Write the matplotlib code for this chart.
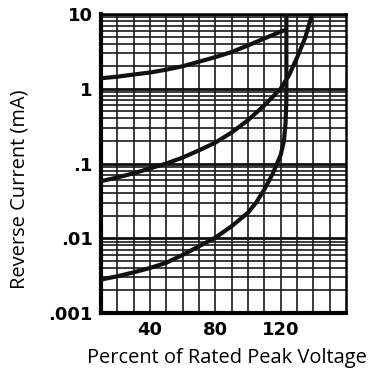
""" reverse current vs percent of rated peak voltage """

import numpy as np
import matplotlib
matplotlib.use('Agg')
from matplotlib import pyplot as plt
from matplotlib.ticker import FixedLocator, LogLocator, NullFormatter

# curve data
top_x = [10, 20, 30, 40, 50, 60, 70, 80, 90, 100, 110, 120, 123.5]
top_y = [1.38, 1.45, 1.55, 1.65, 1.8, 2.0, 2.3, 2.65, 3.1, 3.8, 4.7, 5.8, 6.2]

mid_x = [10, 20, 30, 40, 50, 60, 70, 80, 90, 100, 110, 120, 125, 130, 135, 139]
mid_y = [0.058, 0.065, 0.074, 0.086, 0.1, 0.12, 0.15, 0.19, 0.26, 0.38, 0.6, 1.0, 1.5, 2.6, 4.8, 9.5]

low_x = [10, 20, 30, 40, 50, 60, 70, 80, 90, 100, 105, 110, 115, 120, 122, 123, 123.5, 123.5]
low_y = [0.0028, 0.0031, 0.0035, 0.004, 0.0047, 0.006, 0.0078, 0.0102, 0.0145, 0.022,
         0.03, 0.045, 0.072, 0.13, 0.2, 0.35, 0.7, 10]

x_ticks = [40, 80, 120]
y_ticks = [0.001, 0.01, 0.1, 1, 10]
y_labels = ['.001', '.01', '.1', '1', '10']

# figure
fig = plt.figure(figsize=(3.68, 3.71), dpi=100)
ax = fig.add_axes([101 / 368, 1 - 313 / 371, 245 / 368, 299 / 371])

ax.set_yscale('log')
ax.set_xlim(10, 160)
ax.set_ylim(0.001, 10)

# grid
ax.xaxis.set_major_locator(FixedLocator(x_ticks))
ax.xaxis.set_minor_locator(FixedLocator(np.arange(20, 160, 10)))
ax.yaxis.set_major_locator(FixedLocator(y_ticks))
ax.yaxis.set_minor_locator(LogLocator(base=10, subs=np.arange(2, 10)))
ax.yaxis.set_minor_formatter(NullFormatter())
ax.set_yticklabels(y_labels)

ax.grid(which='minor', axis='both', color='#1a1a1a', lw=1.2)
ax.grid(which='major', axis='x', color='#1a1a1a', lw=1.2)
ax.grid(which='major', axis='y', color='#111111', lw=2.0)

# curves
for xs, ys in [(top_x, top_y), (mid_x, mid_y), (low_x, low_y)]:
    ax.plot(xs, ys, color='#111111', lw=3, solid_capstyle='butt', zorder=3)

# frame
for side in ['left', 'bottom']:
    ax.spines[side].set_linewidth(3)
for side in ['right', 'top']:
    ax.spines[side].set_linewidth(1.8)

ax.tick_params(which='both', length=0)
ax.tick_params(axis='y', pad=6)
ax.tick_params(axis='x', pad=6)
for lbl in ax.get_xticklabels() + ax.get_yticklabels():
    lbl.set_fontweight('bold')
    lbl.set_fontsize(13)

fig.text(227 / 368, 1 - 358 / 371, 'Percent of Rated Peak Voltage',
         ha='center', va='center', fontsize=14.4, family='Open Sans')
fig.text(20 / 368, 1 - 189 / 371, 'Reverse Current (mA)', rotation=90,
         ha='center', va='center', fontsize=14.4, family='Open Sans')

fig.savefig('out.png', dpi=100)
